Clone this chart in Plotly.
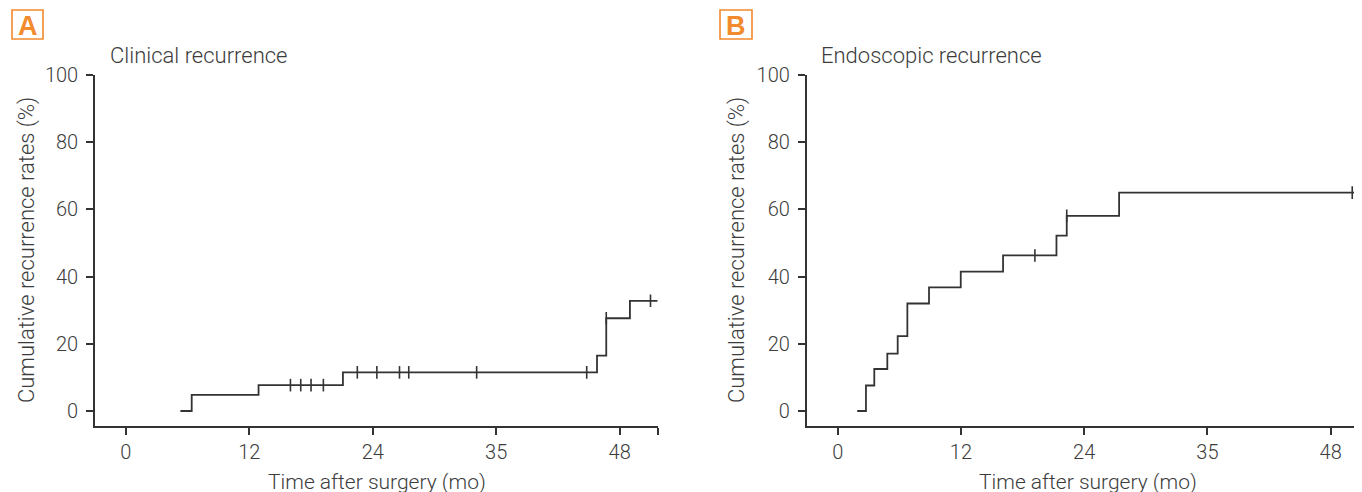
import numpy as np
import plotly.graph_objects as go

# ---------------- data ----------------
# Panel A: clinical recurrence (step function: time of change, cumulative rate %)
a_time = [5.3, 6.4, 12.9, 21.1, 45.8, 46.7, 49.0, 51.7]
a_rate = [0, 4.8, 7.7, 11.5, 16.5, 27.6, 32.8, 32.8]
a_censor = [16.0, 17.0, 18.0, 19.2, 22.5, 24.4, 26.6, 27.5, 34.1, 44.8, 46.7, 51.0]

# Panel B: endoscopic recurrence
b_time = [1.9, 2.75, 3.56, 4.83, 5.84, 6.78, 8.89, 11.98, 16.1, 21.3, 22.3, 27.4, 50.5]
b_rate = [0, 7.6, 12.5, 17.1, 22.3, 32.0, 36.8, 41.5, 46.3, 52.2, 58.1, 65.0, 65.0]
b_censor = [19.2, 22.3, 50.1]

x_tickvals = [0, 12, 24, 36, 48]
x_ticktext = ["0", "12", "24", "35", "48"]
y_tickvals = [0, 20, 40, 60, 80, 100]

panel_labels = ["A", "B"]
panel_titles = ["Clinical recurrence", "Endoscopic recurrence"]
x_title = "Time after surgery (mo)"
y_title = "Cumulative recurrence rates (%)"

# ---------------- figure ----------------
W, H = 1362, 492
OFF = 8  # page body margin offset
M_T = 75 - OFF
M_B = H - (426 - OFF)
PLOT_H = H - M_T - M_B
LINE = "#333333"
TEXT = "#3c3c3c"
ORANGE = "#F28A2E"
FONT = "Roboto, Liberation Sans, Arial, sans-serif"
LABEL_FONT = "Liberation Sans, Arial, sans-serif"


def step_at(times, rates, t):
    i = np.searchsorted(np.asarray(times), t, side="right") - 1
    return rates[max(i, 0)]


def px(x):
    return (x - OFF) / W


def py(y):
    return (H - M_B - (y - OFF)) / PLOT_H


fig = go.Figure()

series = [
    (a_time, a_rate, a_censor, "x", "y"),
    (b_time, b_rate, b_censor, "x2", "y2"),
]
for times, rates, cens, xa, ya in series:
    fig.add_trace(go.Scatter(
        x=times, y=rates, mode="lines", line=dict(color=LINE, width=1.8, shape="hv"),
        xaxis=xa, yaxis=ya, showlegend=False, hoverinfo="skip"))
    fig.add_trace(go.Scatter(
        x=cens, y=[step_at(times, rates, t) for t in cens], mode="markers",
        marker=dict(symbol="line-ns-open", size=9, color=LINE, line=dict(color=LINE, width=1.6)),
        xaxis=xa, yaxis=ya, showlegend=False, hoverinfo="skip"))

axis_common = dict(
    showgrid=False, zeroline=False, showline=True, linecolor=LINE, linewidth=1.6,
    ticks="outside", ticklen=7, tickwidth=1.6, tickcolor=LINE,
    tickfont=dict(family=FONT, size=20, color=TEXT, weight=300),
)

fig.update_layout(
    width=W, height=H,
    margin=dict(l=0, r=0, t=M_T, b=M_B),
    paper_bgcolor="white", plot_bgcolor="white",
    xaxis=dict(domain=[px(95), px(657.7)], range=[-3.0, 51.7],
               tickvals=x_tickvals + [51.7], ticktext=x_ticktext + [""], anchor="y", **axis_common),
    yaxis=dict(domain=[0, 1], range=[-4.46, 100], tickvals=y_tickvals, anchor="x",
               ticklabelstandoff=4, **axis_common),
    xaxis2=dict(domain=[px(806.7), px(1362)], range=[-3.02, 51.05],
                tickvals=x_tickvals, ticktext=x_ticktext, anchor="y2", **axis_common),
    yaxis2=dict(domain=[0, 1], range=[-4.46, 100], tickvals=y_tickvals, anchor="x2",
                ticklabelstandoff=4, **axis_common),
)

annotations = []
shapes = []
panel_geo = [
    # box x0, x1, title x, xtitle center, ytitle center x
    (12, 43, 108, 377, 27),
    (720, 752, 819, 1088, 737),
]
for lab, title, (bx0, bx1, tx, xtc, ytc) in zip(panel_labels, panel_titles, panel_geo):
    shapes.append(dict(type="rect", xref="paper", yref="paper",
                       x0=px(bx0), x1=px(bx1), y0=py(39), y1=py(10),
                       line=dict(color=ORANGE, width=1.6), fillcolor="white"))
    annotations.append(dict(text=f"<b>{lab}</b>", xref="paper", yref="paper",
                            x=px((bx0 + bx1) / 2), y=py(25.5), showarrow=False,
                            xanchor="center", yanchor="middle",
                            font=dict(family=LABEL_FONT, size=27, color=ORANGE)))
    annotations.append(dict(text=title, xref="paper", yref="paper",
                            x=px(tx), y=py(56), showarrow=False,
                            xanchor="left", yanchor="middle",
                            font=dict(family=FONT, size=22, color=TEXT, weight=300)))
    annotations.append(dict(text=x_title, xref="paper", yref="paper",
                            x=px(xtc), y=py(482), showarrow=False,
                            xanchor="center", yanchor="middle",
                            font=dict(family=FONT, size=21, color=TEXT, weight=300)))
    annotations.append(dict(text=y_title, xref="paper", yref="paper",
                            x=px(ytc), y=py(250), showarrow=False, textangle=-90,
                            xanchor="center", yanchor="middle",
                            font=dict(family=FONT, size=22, color=TEXT, weight=300)))

fig.update_layout(annotations=annotations, shapes=shapes)
fig.write_html("out.html")
